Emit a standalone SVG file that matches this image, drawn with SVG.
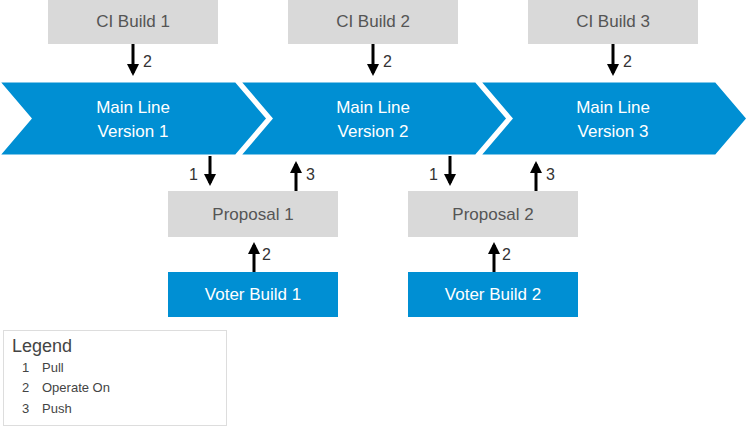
<svg xmlns="http://www.w3.org/2000/svg" width="746" height="426" viewBox="0 0 746 426">
<style>
.gray{fill:#d9d9d9}
.blue{fill:#008fd3}
.chev{fill:#008fd3;stroke:#fff;stroke-width:3}
.gt{font-family:"Liberation Sans",Arial,sans-serif;font-size:17px;fill:#555;text-anchor:middle}
.wt{font-family:"Liberation Sans",Arial,sans-serif;font-size:17px;fill:#fff;text-anchor:middle}
.lbl{font-family:"Liberation Sans",Arial,sans-serif;font-size:16px;fill:#333}
.lg{font-family:"Liberation Sans",Arial,sans-serif;font-size:13px;fill:#444}
.conn{stroke:#000;stroke-width:3;fill:none}
</style>
<defs>
<marker id="ah" markerWidth="4" markerHeight="4" refX="3" refY="2" orient="auto" markerUnits="strokeWidth">
<path d="M0,0 L4,2 L0,4 z" fill="#000"/>
</marker>
</defs>
<g id="main1"><polygon class="chev" points="-2,81 236,81 268,118.5 236,156 -2,156 30,118.5"/><text class="wt" x="133" y="113">Main Line</text><text class="wt" x="133" y="137">Version 1</text></g>
<g id="main2"><polygon class="chev" points="239,81 476,81 508,118.5 476,156 239,156 271,118.5"/><text class="wt" x="373" y="113">Main Line</text><text class="wt" x="373" y="137">Version 2</text></g>
<g id="main3"><polygon class="chev" points="479,81 716,81 748,118.5 716,156 479,156 511,118.5"/><text class="wt" x="613" y="113">Main Line</text><text class="wt" x="613" y="137">Version 3</text></g>
<g id="ci1"><rect class="gray" x="48" y="0" width="170" height="44"/><text class="gt" x="133" y="27">CI Build 1</text></g>
<g id="ci2"><rect class="gray" x="288" y="0" width="170" height="44"/><text class="gt" x="373" y="27">CI Build 2</text></g>
<g id="ci3"><rect class="gray" x="528" y="0" width="170" height="44"/><text class="gt" x="613" y="27">CI Build 3</text></g>
<g id="prop1"><rect class="gray" x="168" y="191" width="170" height="46"/><text class="gt" x="253" y="220">Proposal 1</text></g>
<g id="prop2"><rect class="gray" x="408" y="191" width="170" height="46"/><text class="gt" x="493" y="220">Proposal 2</text></g>
<g id="voter1"><rect class="blue" x="168" y="272" width="170" height="45"/><text class="wt" x="253" y="300">Voter Build 1</text></g>
<g id="voter2"><rect class="blue" x="408" y="272" width="170" height="45"/><text class="wt" x="493" y="300">Voter Build 2</text></g>
<g id="connectors">
<line class="conn" x1="133" y1="44" x2="133" y2="73" marker-end="url(#ah)"/>
<line class="conn" x1="373" y1="44" x2="373" y2="73" marker-end="url(#ah)"/>
<line class="conn" x1="613" y1="44" x2="613" y2="73" marker-end="url(#ah)"/>
<line class="conn" x1="210" y1="156" x2="210" y2="183" marker-end="url(#ah)"/>
<line class="conn" x1="296" y1="191" x2="296" y2="164" marker-end="url(#ah)"/>
<line class="conn" x1="254" y1="272" x2="254" y2="245" marker-end="url(#ah)"/>
<line class="conn" x1="450" y1="156" x2="450" y2="183" marker-end="url(#ah)"/>
<line class="conn" x1="536" y1="191" x2="536" y2="164" marker-end="url(#ah)"/>
<line class="conn" x1="494" y1="272" x2="494" y2="245" marker-end="url(#ah)"/>
<text class="lbl" x="143" y="67">2</text>
<text class="lbl" x="383" y="67">2</text>
<text class="lbl" x="623" y="67">2</text>
<text class="lbl" x="189" y="180">1</text>
<text class="lbl" x="306" y="180">3</text>
<text class="lbl" x="262" y="260">2</text>
<text class="lbl" x="429" y="180">1</text>
<text class="lbl" x="546" y="180">3</text>
<text class="lbl" x="502" y="260">2</text>
</g>
<g id="legend">
<rect x="3.5" y="330.5" width="223" height="95" fill="#fff" stroke="#ddd" stroke-width="1"/>
<text x="12" y="352" style="font-family:'Liberation Sans',Arial,sans-serif;font-size:18px;fill:#444">Legend</text>
<text class="lg" x="22" y="372">1</text><text class="lg" x="42" y="372">Pull</text>
<text class="lg" x="22" y="392">2</text><text class="lg" x="42" y="392">Operate On</text>
<text class="lg" x="22" y="413">3</text><text class="lg" x="42" y="413">Push</text>
</g>
</svg>
